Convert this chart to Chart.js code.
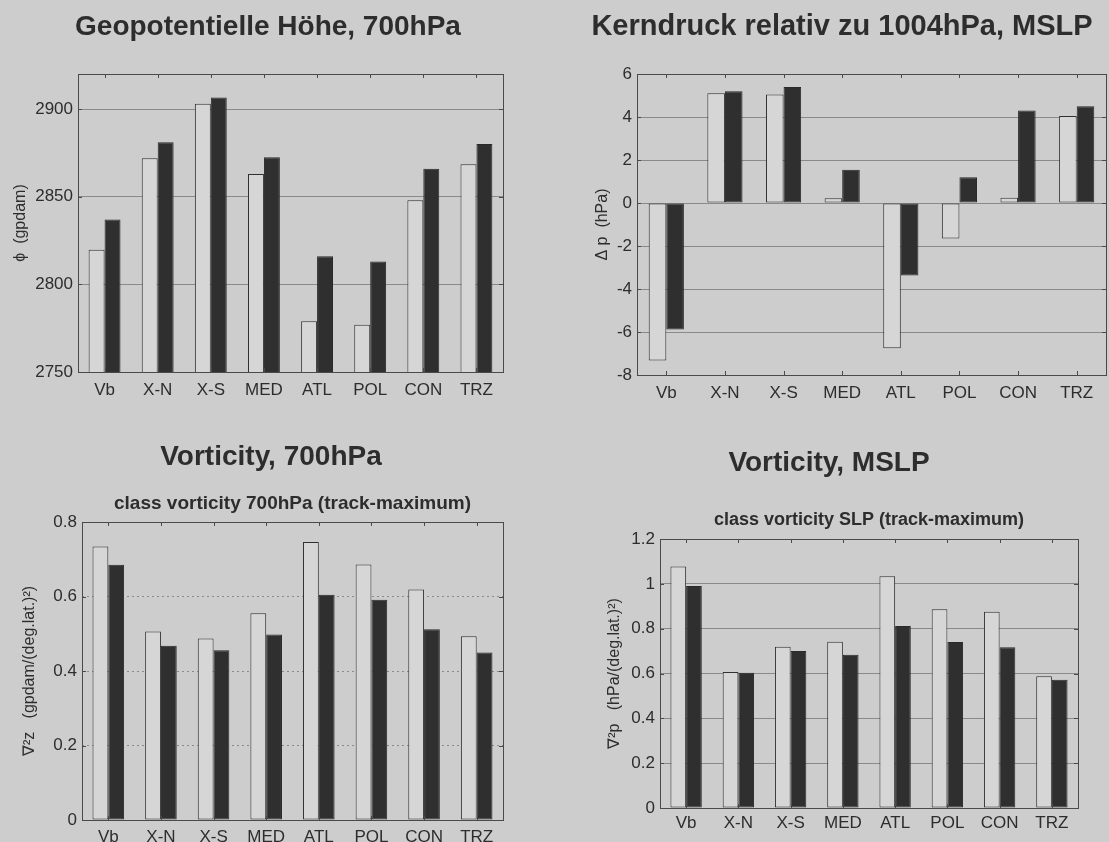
<!DOCTYPE html>
<html>
<head>
<meta charset="utf-8">
<script src="https://cdn.jsdelivr.net/npm/chart.js@4.4.0/dist/chart.umd.min.js"></script>
<style>
  body { margin: 0; background: #cdcdcd; width: 1109px; height: 842px; overflow: hidden; }
  .box { position: absolute; }
</style>
</head>
<body>
<div class="box" style="left:0;top:0;width:555px;height:420px"><canvas id="c1"></canvas></div>
<div class="box" style="left:555px;top:0;width:554px;height:420px"><canvas id="c2"></canvas></div>
<div class="box" style="left:0;top:420px;width:555px;height:422px"><canvas id="c3"></canvas></div>
<div class="box" style="left:555px;top:420px;width:554px;height:422px"><canvas id="c4"></canvas></div>
<script>
// cyclone classes
var classes = ['Vb', 'X-N', 'X-S', 'MED', 'ATL', 'POL', 'CON', 'TRZ'];

// geopotential height 700hPa (gpdam)
var geoWhite = [2819.7, 2872, 2903, 2863, 2779, 2777, 2848, 2868.5];
var geoBlack = [2837, 2881, 2906.6, 2872.5, 2816, 2813, 2866, 2880];
var geoTicks = [2750, 2800, 2850, 2900];

// core pressure relative to 1004hPa (hPa)
var dpWhite = [-7.33, 5.1, 5.05, 0.22, -6.76, -1.65, 0.25, 4.05];
var dpBlack = [-5.88, 5.2, 5.4, 1.55, -3.37, 1.2, 4.3, 4.5];
var dpTicks = [-8, -6, -4, -2, 0, 2, 4, 6];

// vorticity 700hPa
var vz700White = [0.734, 0.506, 0.487, 0.555, 0.746, 0.686, 0.619, 0.493];
var vz700Black = [0.685, 0.468, 0.456, 0.498, 0.605, 0.591, 0.512, 0.45];
var vz700Ticks = [0, 0.2, 0.4, 0.6, 0.8];

// vorticity MSLP
var vslpWhite = [1.077, 0.607, 0.719, 0.742, 1.034, 0.887, 0.876, 0.588];
var vslpBlack = [0.99, 0.603, 0.70, 0.684, 0.812, 0.741, 0.717, 0.572];
var vslpTicks = [0, 0.2, 0.4, 0.6, 0.8, 1, 1.2];

var textColor = '#2d2d2d';
var fontFam = '"Liberation Sans", Arial, sans-serif';

// matlab style box with little inward ticks
var framePlugin = {
    id: 'frame',
    afterDraw: function (chart) {
        var ctx = chart.ctx, a = chart.chartArea, sx = chart.scales.x, sy = chart.scales.y;
        ctx.save();
        ctx.strokeStyle = '#4a4a4a';
        ctx.lineWidth = 1;
        ctx.strokeRect(Math.round(a.left) + 0.5, Math.round(a.top) + 0.5,
            Math.round(a.right - a.left), Math.round(a.bottom - a.top));
        ctx.beginPath();
        sx.ticks.forEach(function (t, i) {
            var x = Math.round(sx.getPixelForTick(i)) + 0.5;
            ctx.moveTo(x, a.top); ctx.lineTo(x, a.top + 4);
            ctx.moveTo(x, a.bottom); ctx.lineTo(x, a.bottom - 4);
        });
        sy.ticks.forEach(function (t, i) {
            var y = Math.round(sy.getPixelForTick(i)) + 0.5;
            ctx.moveTo(a.left, y); ctx.lineTo(a.left + 4, y);
            ctx.moveTo(a.right, y); ctx.lineTo(a.right - 4, y);
        });
        ctx.stroke();
        ctx.restore();
    }
};

function barChart(id, white, black, tickVals, o) {
    var scales = {
        x: {
            grid: { display: false },
            border: { display: false },
            ticks: { color: textColor, padding: o.xPad, font: { family: fontFam, size: 17 } },
            afterFit: function (s) { s.height = o.xHeight; }
        },
        y: {
            min: o.min,
            max: o.max,
            grid: { color: '#8a8a8a', lineWidth: 1, drawTicks: false },
            border: { display: false, dash: o.dash || [] },
            afterBuildTicks: function (s) {
                s.ticks = tickVals.map(function (v) { return { value: v }; });
            },
            ticks: {
                color: textColor,
                padding: 5,
                font: { family: fontFam, size: 17 },
                callback: function (v) { return String(v); }
            },
            title: {
                display: true,
                text: o.yTitle,
                color: textColor,
                font: { family: fontFam, size: 16, lineHeight: 1.2 },
                padding: { top: o.yTitlePad, bottom: 0 }
            },
            afterFit: function (s) { s.width = o.yWidth; }
        }
    };
    // matlab plot title sits centred over the axes box
    if (o.subtitle) {
        scales.xTop = {
            type: 'category',
            position: 'top',
            grid: { display: false },
            border: { display: false },
            ticks: { display: false },
            title: {
                display: true,
                text: o.subtitle,
                color: textColor,
                font: { family: fontFam, size: o.subSize, weight: 'bold', lineHeight: 1.2 },
                padding: { top: o.subPad, bottom: 0 }
            },
            afterFit: function (s) { s.height = o.topHeight; }
        };
    }
    return new Chart(document.getElementById(id), {
        type: 'bar',
        data: {
            labels: classes,
            datasets: [{
                data: white,
                backgroundColor: '#d6d6d6',
                borderColor: '#303030',
                borderWidth: 1,
                borderSkipped: false,
                categoryPercentage: 0.6,
                barPercentage: 1.0
            }, {
                data: black,
                backgroundColor: '#2f2f2f',
                borderColor: '#2a2a2a',
                borderWidth: 1,
                borderSkipped: false,
                categoryPercentage: 0.6,
                barPercentage: 1.0
            }]
        },
        options: {
            responsive: true,
            maintainAspectRatio: false,
            animation: false,
            events: [],
            layout: { padding: { left: o.padLeft, right: o.padRight, top: 0, bottom: 0 } },
            plugins: {
                title: {
                    display: true,
                    text: o.title,
                    color: textColor,
                    font: { family: fontFam, size: o.titleSize, weight: 'bold', lineHeight: 1.2 },
                    padding: { top: o.titleTop, bottom: o.titleBottom }
                },
                legend: { display: false },
                tooltip: { enabled: false }
            },
            scales: scales
        },
        plugins: [framePlugin]
    });
}

barChart('c1', geoWhite, geoBlack, geoTicks, {
    title: 'Geopotentielle Höhe, 700hPa', titleSize: 28,
    titleTop: 10.2, titleBottom: 30.2,
    min: 2750, max: 2920,
    yTitle: '\u03d5  (gpdam)', yTitlePad: -21.6, yWidth: 45,
    padLeft: 33, padRight: 52, xHeight: 48, xPad: 0
});

barChart('c2', dpWhite, dpBlack, dpTicks, {
    title: 'Kerndruck relativ zu 1004hPa, MSLP', titleSize: 29,
    titleTop: 9.6, titleBottom: 29.6,
    min: -8, max: 6,
    yTitle: '\u0394 p  (hPa)', yTitlePad: 15.4, yWidth: 59,
    padLeft: 23, padRight: 3, xHeight: 45, xPad: 0
});

barChart('c3', vz700White, vz700Black, vz700Ticks, {
    title: 'Vorticity, 700hPa', titleSize: 28,
    titleTop: 20.2, titleBottom: 0,
    subtitle: 'class vorticity 700hPa (track-maximum)', subSize: 19,
    subPad: 18.8, topHeight: 48.2,
    min: 0, max: 0.8,
    dash: [2, 3],
    yTitle: '\u2207\u00b2z   (gpdam/(deg.lat.)\u00b2)', yTitlePad: -18.6, yWidth: 43,
    padLeft: 39, padRight: 52, xHeight: 22, xPad: -1
});

barChart('c4', vslpWhite, vslpBlack, vslpTicks, {
    title: 'Vorticity, MSLP', titleSize: 28,
    titleTop: 26.2, titleBottom: 0,
    subtitle: 'class vorticity SLP (track-maximum)', subSize: 18,
    subPad: 29.4, topHeight: 59.2,
    min: 0, max: 1.2,
    yTitle: '\u2207\u00b2p   (hPa/(deg.lat.)\u00b2)', yTitlePad: 25.4, yWidth: 80,
    padLeft: 25, padRight: 31, xHeight: 34, xPad: -3
});
</script>
</body>
</html>
